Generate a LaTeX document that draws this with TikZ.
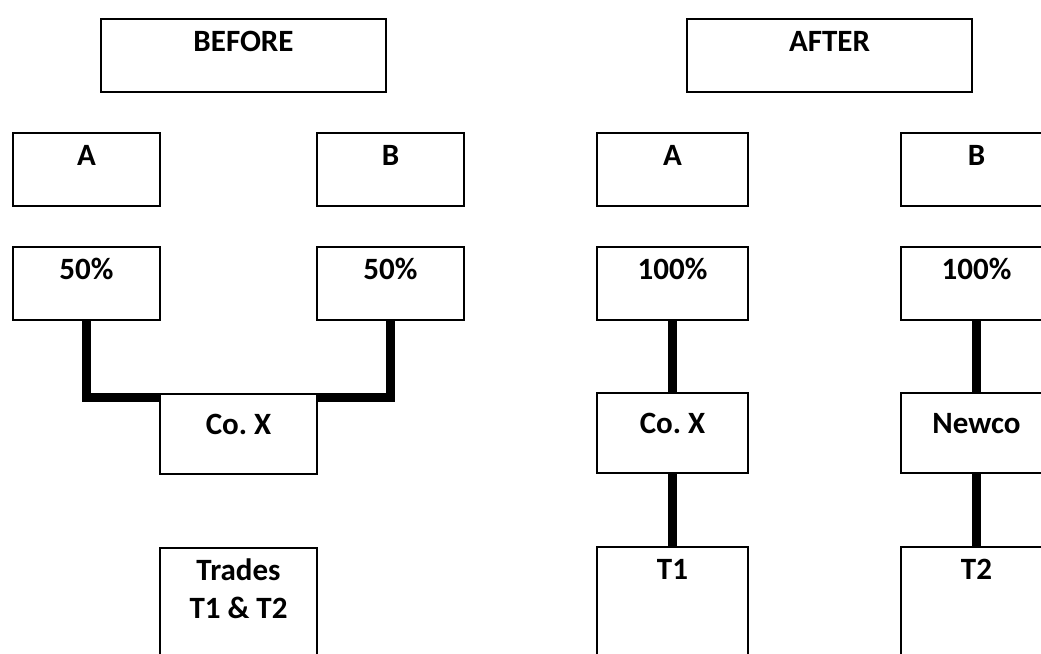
\documentclass[tikz,border=0pt]{standalone}
\usepackage{fontspec}
\setmainfont{Carlito}
\usepackage{tikz}
\usetikzlibrary{calc}

\begin{document}
\begin{tikzpicture}[x=1pt,y=-1pt,
    firm/.style={draw,line width=2pt,inner sep=0pt,anchor=north west,
      font=\fontsize{31}{38}\selectfont\bfseries,align=center,
      text height=32pt,text depth=41pt,minimum width=147pt},
    title/.style={firm,minimum width=285pt},
    mid/.style={firm,text height=40pt,text depth=40pt},
    low/.style={firm,text depth=100pt},
    link/.style={line width=9pt}]
\clip (0,0) rectangle (1041,653);

% before
\node[title] (before) at (100,18) {BEFORE};
\node[firm] (a1) at (12,132) {A};
\node[firm] (b1) at (316,132) {B};
\node[firm] (pa1) at (12,246) {50\%};
\node[firm] (pb1) at (316,246) {50\%};
\node[mid,minimum width=157pt] (cox1) at (159,393) {Co.\ X};
\node[low,minimum width=157pt,text height=70pt,text depth=62pt] (trades) at (159,547) {Trades\\T1 \& T2};

\draw[link] (pa1.south) |- ([yshift=-4pt]cox1.north west);
\draw[link] (pb1.south) |- ([yshift=-4pt]cox1.north east);

% after
\node[title] (after) at (686,18) {AFTER};
\node[firm,minimum width=151pt] (a2) at (596,132) {A};
\node[firm,minimum width=151pt] (b2) at (900,132) {B};
\node[firm,minimum width=151pt] (pa2) at (596,246) {100\%};
\node[firm,minimum width=151pt] (pb2) at (900,246) {100\%};
\node[mid,minimum width=151pt] (cox2) at (596,392) {Co.\ X};
\node[mid,minimum width=151pt] (newco) at (900,392) {Newco};
\node[low,minimum width=151pt] (t1) at (596,546) {T1};
\node[low,minimum width=151pt] (t2) at (900,546) {T2};

\draw[link] (pa2) -- (cox2);
\draw[link] (cox2) -- (t1);
\draw[link] (pb2) -- (newco);
\draw[link] (newco) -- (t2);
\end{tikzpicture}
\end{document}
